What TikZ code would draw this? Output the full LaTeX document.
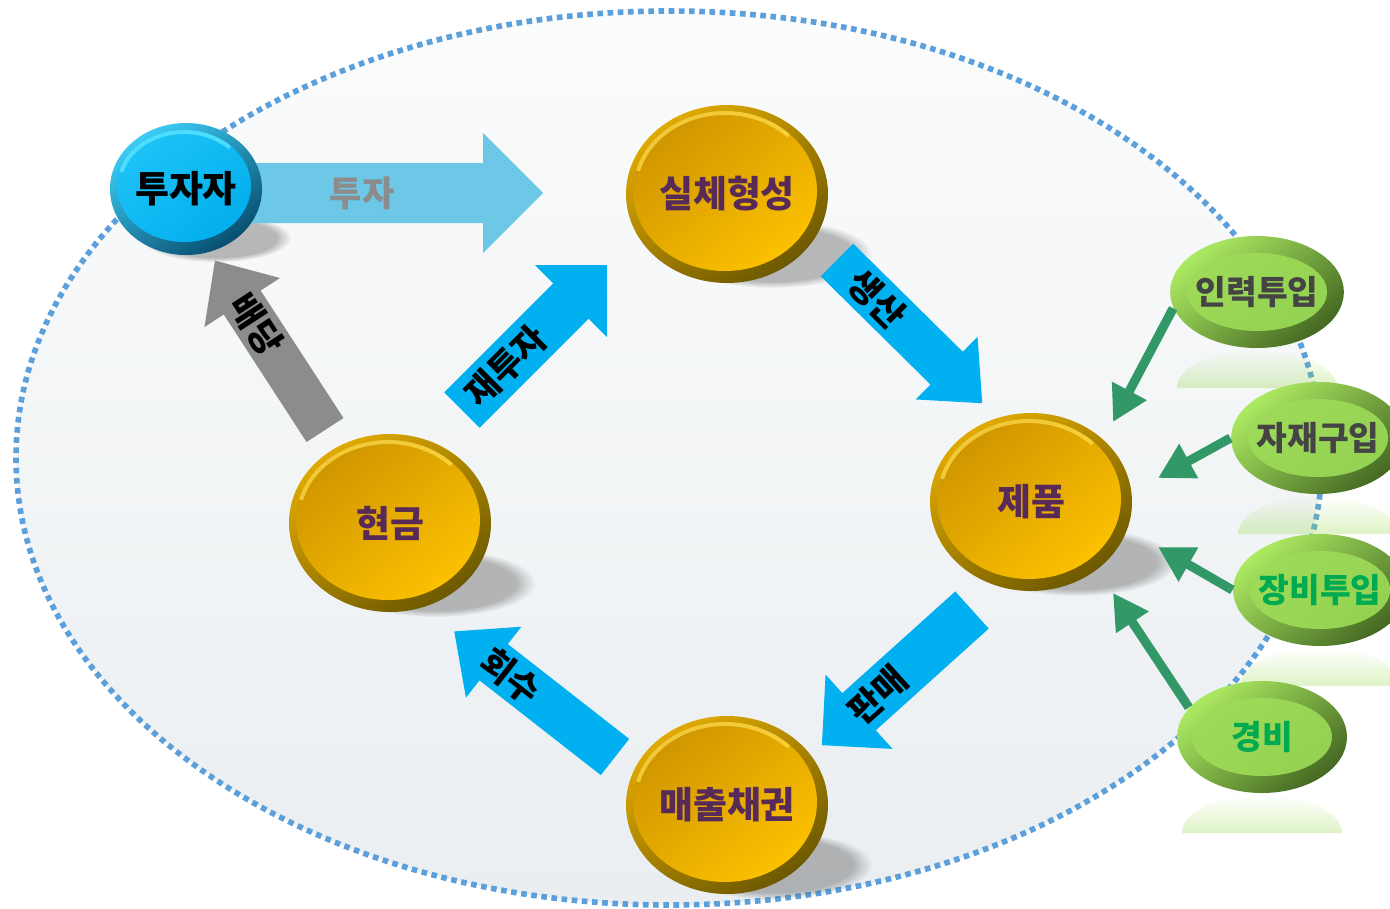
\documentclass[tikz,border=0pt]{standalone}
\usepackage{fontspec}
\newfontfamily\kr{Noto Sans CJK KR}
\usetikzlibrary{shapes.geometric, arrows.meta, fadings, calc}
\definecolor{ringblue}{RGB}{91,160,218}
\definecolor{bgtop}{RGB}{251,252,252}
\definecolor{bgbot}{RGB}{234,238,241}
\definecolor{skyarrow}{RGB}{0,176,240}
\definecolor{paleblue}{RGB}{108,200,230}
\definecolor{greyarrow}{RGB}{140,140,140}
\definecolor{goldrimA}{RGB}{224,170,0}
\definecolor{goldrimB}{RGB}{108,88,0}
\definecolor{goldA}{RGB}{206,148,0}
\definecolor{goldB}{RGB}{255,196,0}
\definecolor{goldhi}{RGB}{255,222,80}
\definecolor{plum}{RGB}{88,42,88}
\definecolor{leafrimA}{RGB}{172,234,98}
\definecolor{leafrimB}{RGB}{68,104,34}
\definecolor{leafA}{RGB}{160,220,90}
\definecolor{leafB}{RGB}{146,208,80}
\definecolor{feedgreen}{RGB}{50,152,104}
\definecolor{txtgreen}{RGB}{0,170,80}
\definecolor{txtgrey}{RGB}{68,68,68}
\definecolor{cyanrimA}{RGB}{60,205,245}
\definecolor{cyanrimB}{RGB}{8,78,112}
\definecolor{cyanA}{RGB}{30,196,248}
\definecolor{cyanB}{RGB}{0,172,235}
\definecolor{cyanhi}{RGB}{90,228,255}

% block arrow: fill, base, angle, length, half shaft, half head, head length, label distance, label node
\newcommand{\blockarrow}[9]{%
  \begin{scope}[shift={#2}, rotate=#3]
    \fill[#1] (0,-#5) -- (#4-#7,-#5) -- (#4-#7,-#6) -- (#4,0) -- (#4-#7,#6)
      -- (#4-#7,#5) -- (0,#5) -- cycle;
    \path (#8,0) #9;
  \end{scope}}

\begin{document}
\begin{tikzpicture}[x=0.1mm, y=-0.1mm,
    ring/.style={draw=ringblue, line width=1.6pt, dash pattern=on 1.6pt off 1.3pt},
    golddisc/.style={ellipse, inner sep=0pt, minimum width=20.2mm, minimum height=17.8mm,
      top color=goldrimA, bottom color=goldrimB, shading angle=35,
      path picture={
        \shade[top color=goldA, bottom color=goldB, shading angle=40]
          ([xshift=-0.2mm, yshift=0.3mm]path picture bounding box.center)
          ellipse [x radius=9.2mm, y radius=8mm];
        \draw[goldhi, line width=0.4mm, opacity=0.7]
          ([xshift=-0.2mm, yshift=0.3mm]path picture bounding box.center)
          ++(165:9mm and 7.8mm) arc[start angle=165, end angle=45, x radius=9mm, y radius=7.8mm];
      },
      font=\kr\bfseries\fontsize{10.5}{10.5}\selectfont, text=plum},
    cyandisc/.style={ellipse, inner sep=0pt, minimum width=15.2mm, minimum height=13.2mm,
      top color=cyanrimA, bottom color=cyanrimB, shading angle=35,
      path picture={
        \shade[top color=cyanA, bottom color=cyanB, shading angle=40]
          ([xshift=-0.2mm, yshift=0.3mm]path picture bounding box.center)
          ellipse [x radius=6.7mm, y radius=5.6mm];
        \draw[cyanhi, line width=0.4mm, opacity=0.8]
          ([xshift=-0.2mm, yshift=0.3mm]path picture bounding box.center)
          ++(165:6.5mm and 5.4mm) arc[start angle=165, end angle=45, x radius=6.5mm, y radius=5.4mm];
      },
      font=\kr\bfseries\fontsize{10.5}{10.5}\selectfont, text=black},
    leafdisc/.style={ellipse, inner sep=0pt, minimum width=17mm, minimum height=11.2mm,
      top color=leafrimA, bottom color=leafrimB, shading angle=40,
      path picture={
        \shade[top color=leafA, bottom color=leafB, shading angle=40]
          (path picture bounding box.center) ellipse [x radius=7mm, y radius=3.9mm];
      },
      font=\kr\bfseries\fontsize{9.5}{9.5}\selectfont},
    arrowtext/.style={font=\kr\bfseries\fontsize{10}{10}\selectfont, inner sep=0pt},
    feed/.style={draw=feedgreen, line width=2.6pt, -{Triangle[length=10pt, width=10.5pt]}}]

  \useasboundingbox (0,0) rectangle (1390,908);
  \clip (0,0) rectangle (1390,908);

  % dotted ring
  \shade[top color=bgtop, bottom color=bgbot] (669,458) ellipse [x radius=65.3mm, y radius=44.7mm];
  \draw[ring] (669,458) ellipse [x radius=65.3mm, y radius=44.7mm];

  % shadows
  \foreach \cx/\cy in {727/194, 1031/502, 390/523, 727/805}
    \fill[black!75, opacity=0.35, path fading=circle with fuzzy edge 20 percent]
      (\cx+45,\cy+60) ellipse [x radius=10mm, y radius=3.4mm];
  \fill[black!75, opacity=0.35, path fading=circle with fuzzy edge 20 percent]
    (216,238) ellipse [x radius=7.5mm, y radius=2.4mm];

  % reflections
  \foreach \cx/\cy in {1257/292, 1318/438, 1320/590, 1262/737}
    \fill[leafA, opacity=0.35, path fading=north]
      (\cx-80,\cy+96) arc[start angle=180, end angle=0, x radius=8mm, y radius=3.8mm] -- cycle;

  % block arrows
  \blockarrow{paleblue}{(200,193)}{0}{343}{30}{60}{60}{162}
    {node[arrowtext, text=greyarrow] (lbl-invest) {투자}}
  \blockarrow{greyarrow}{(325,430)}{123}{202}{22}{45}{50}{126}
    {node[arrowtext, rotate=-57] (lbl-div) {배당}}
  \blockarrow{skyarrow}{(462,410)}{45}{205}{25}{51}{51}{62}
    {node[arrowtext, rotate=45] (lbl-reinv) {재투자}}
  \blockarrow{skyarrow}{(837,260)}{-44.6}{204}{23}{44}{50}{56}
    {node[arrowtext, rotate=-45] (lbl-prod) {생산}}
  \blockarrow{skyarrow}{(972,610)}{-138}{202}{25}{50}{50}{127}
    {node[arrowtext, rotate=42] (lbl-sell) {판매}}
  \blockarrow{skyarrow}{(615,757)}{142}{204}{23}{45}{50}{132}
    {node[arrowtext, rotate=-38] (lbl-coll) {회수}}

  % main discs
  \node[cyandisc] (investor) at (186,189) {투자자};
  \node[golddisc] (asset) at (727,194) {실체형성};
  \node[golddisc] (product) at (1031,502) {제품};
  \node[golddisc] (cash) at (390,523) {현금};
  \node[golddisc] (receivable) at (727,805) {매출채권};

  % inputs
  \node[leafdisc, text=txtgrey] (labor) at (1257,292) {인력투입};
  \node[leafdisc, text=txtgrey] (material) at (1318,438) {자재구입};
  \node[leafdisc, text=txtgreen] (equip) at (1320,590) {장비투입};
  \node[leafdisc, text=txtgreen] (expense) at (1262,737) {경비};

  \coordinate (in-labor) at (1113,422);
  \coordinate (in-material) at (1158,478);
  \coordinate (in-equip) at (1158,547);
  \coordinate (in-expense) at (1113,593);

  \draw[feed] (labor.191) -- (in-labor);
  \draw[feed] (material.west) -- (in-material);
  \draw[feed] (equip.west) -- (in-equip);
  \draw[feed] (expense.158) -- (in-expense);
\end{tikzpicture}
\end{document}
